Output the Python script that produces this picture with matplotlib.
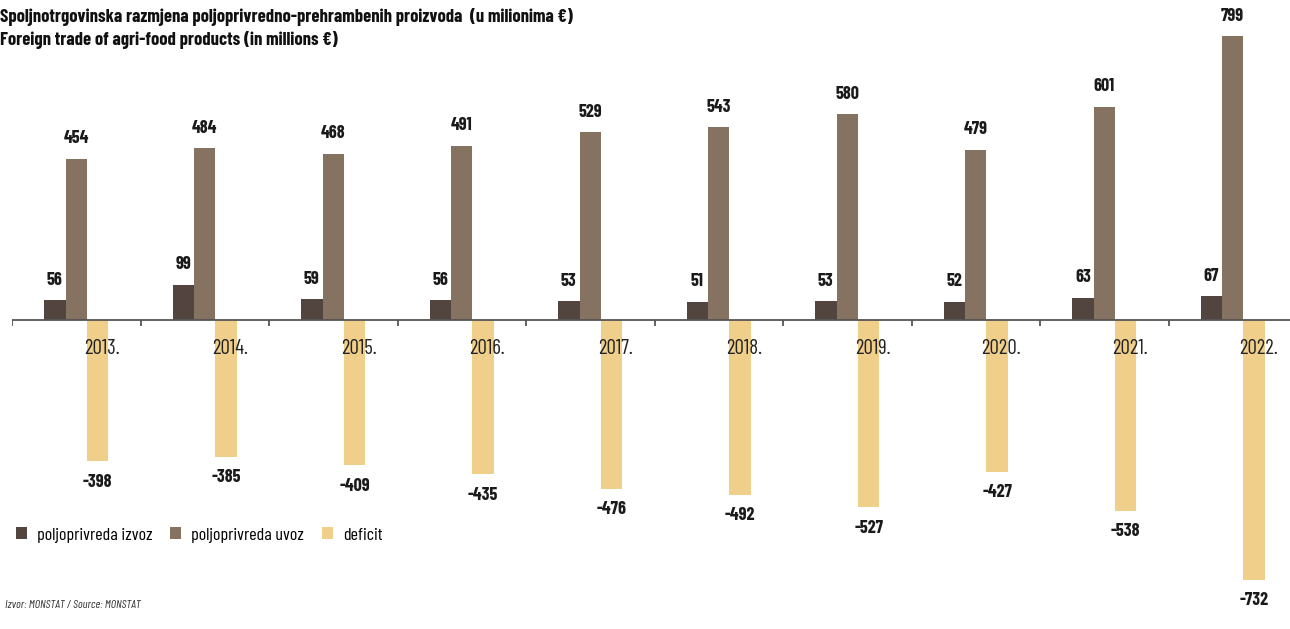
import numpy as np
import matplotlib
matplotlib.use("Agg")
import matplotlib.pyplot as plt
from matplotlib.patches import Patch

years = ["2013.", "2014.", "2015.", "2016.", "2017.", "2018.", "2019.", "2020.", "2021.", "2022."]
izvoz = [56, 99, 59, 56, 53, 51, 53, 52, 63, 67]
uvoz = [454, 484, 468, 491, 529, 543, 580, 479, 601, 799]
deficit = [-398, -385, -409, -435, -476, -492, -527, -427, -538, -732]

series_names = ["poljoprivreda izvoz", "poljoprivreda uvoz", "deficit"]
colors = ["#524540", "#857260", "#F0CF8A"]

plt.rcParams['font.family'] = ['Barlow Condensed', 'DejaVu Sans']

W, H = 1290, 629
fig = plt.figure(figsize=(W / 100, H / 100), dpi=100)

# axes: x from 12 px to the right edge, zero line at 320 px from the top
left_px = 12
ax = fig.add_axes([left_px / W, 0, 1 - left_px / W, 1])
scale = 0.355  # px per million
ax.set_ylim(-(H - 320) / scale, 320 / scale)
ax.set_xlim(-0.5, -0.5 + (W - left_px) / 128.5)

x = np.arange(len(years))
w = 1 / 6
for k, (vals, c) in enumerate(zip([izvoz, uvoz, deficit], colors)):
    pos = x + (k - 1) * w
    ax.bar(pos, vals, width=w, color=c, zorder=2)
    for xi, v in zip(pos, vals):
        off = 20 if v > 0 else -21
        ax.annotate(str(v), (xi, v), xytext=(0, off), textcoords='offset pixels',
                    ha='center', va='center', fontsize=13, fontweight='bold',
                    color='#1a1a1a')

# zero line with small ticks between the years
ax.axhline(0, color='#555555', lw=1.3, zorder=3)
for b in np.arange(-0.5, len(years), 1.0):
    ax.plot([b, b], [0, -6 / scale], color='#555555', lw=1.3,
            zorder=3, solid_capstyle='butt')

for xi, yr in zip(x, years):
    ax.annotate(yr, (xi + 0.2, 0), xytext=(0, -29), textcoords='offset pixels',
                ha='center', va='center', fontsize=15, color='#222222', zorder=4)

for s in ax.spines.values():
    s.set_visible(False)
ax.set_xticks([])
ax.set_yticks([])

fig.text(0, 1 - 17 / H, "Spoljnotrgovinska razmjena poljoprivredno-prehrambenih proizvoda  (u milionima €)",
         fontsize=13.4, fontweight='bold', ha='left', va='center', color='#111111')
fig.text(0, 1 - 40 / H, "Foreign trade of agri-food products (in millions €)",
         fontsize=13.4, fontweight='bold', ha='left', va='center', color='#111111')

handles = [Patch(facecolor=c, edgecolor='none') for c in colors]
fig.legend(handles, series_names, loc='center left', bbox_to_anchor=(16 / W, 1 - 535 / H),
           ncol=3, frameon=False, fontsize=13, handlelength=0.6, handleheight=0.6,
           handletextpad=0.55, columnspacing=1.0, borderaxespad=0, borderpad=0)

fig.text(5 / W, 1 - 605 / H, "Izvor: MONSTAT / Source: MONSTAT", fontsize=8.5,
         style='italic', ha='left', va='center', color='#333333')

fig.savefig("out.png", dpi=100)
